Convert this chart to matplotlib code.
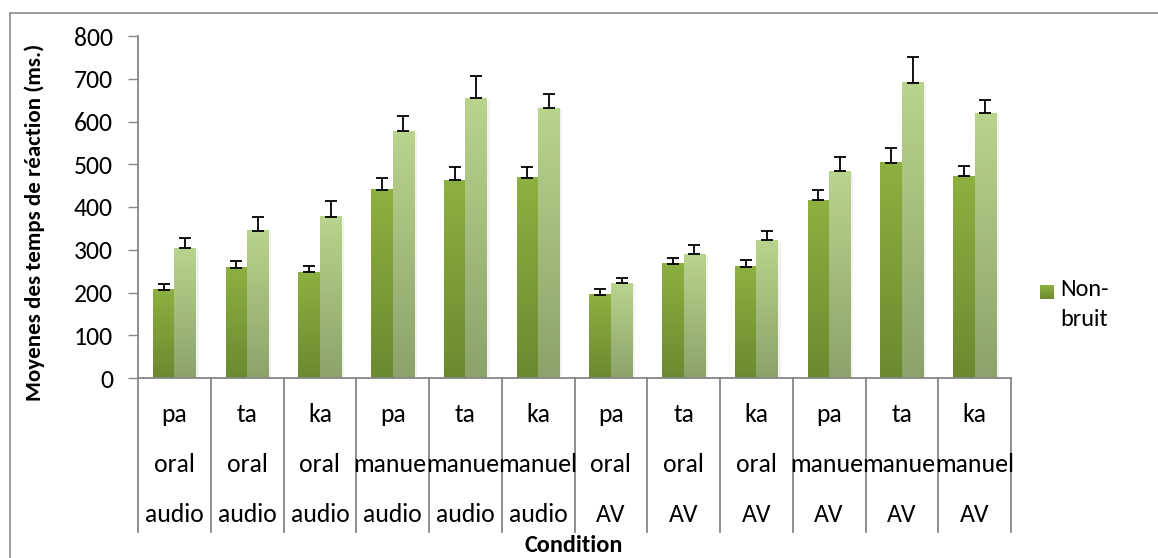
import numpy as np
import matplotlib
matplotlib.use("Agg")
import matplotlib.pyplot as plt
from matplotlib.colors import LinearSegmentedColormap
from matplotlib.patches import Rectangle
from matplotlib.transforms import blended_transform_factory
from matplotlib import font_manager

# Data
syllables = ["pa", "ta", "ka", "pa", "ta", "ka", "pa", "ta", "ka", "pa", "ta", "ka"]
effectors = ["oral", "oral", "oral", "manuel", "manuel", "manuel",
             "oral", "oral", "oral", "manuel", "manuel", "manuel"]
modalities = ["audio"] * 6 + ["AV"] * 6

non_bruit = [206, 258, 247, 440, 463, 468, 195, 267, 260, 416, 503, 472]
non_bruit_err = [14, 15, 16, 29, 30, 25, 13, 14, 17, 24, 35, 25]
bruit = [303, 344, 377, 577, 654, 631, 222, 289, 322, 484, 691, 619]
bruit_err = [25, 33, 38, 35, 52, 34, 13, 21, 21, 33, 61, 32]

# Calibri look-alike if present, else Lato
installed = {f.name for f in font_manager.fontManager.ttflist}
main_font = "Carlito" if "Carlito" in installed else "Lato"
plt.rcParams['font.family'] = [main_font, 'DejaVu Sans']

W, H = 1158, 558
fig = plt.figure(figsize=(W / 100, H / 100), dpi=100)
ax = fig.add_axes([138 / W, 1 - 378 / H, (1011 - 138) / W, 342 / H])

# outer chart frame
fig.patches.append(Rectangle((10 / W, -0.1), 1.2, 1 - 13 / H + 0.1, transform=fig.transFigure,
                             fill=False, edgecolor="#8c8c8c", linewidth=1.2))

dark_cmap = LinearSegmentedColormap.from_list("dark", ["#6b8a2f", "#8db041"])
light_cmap = LinearSegmentedColormap.from_list("light", ["#8ba36a", "#b9d48d"])
grad = np.linspace(0, 1, 256).reshape(-1, 1)

x = np.arange(len(syllables))
bw = 0.297


def gradient_bars(xs, heights, cmap):
    for xc, h in zip(xs, heights):
        # faint shadow to the right
        ax.add_patch(Rectangle((xc - bw / 2 + 0.035, 0), bw, h - 3, facecolor="#000000",
                               alpha=0.05, linewidth=0, zorder=1))
        ax.imshow(grad, extent=[xc - bw / 2, xc + bw / 2, 0, h], origin="lower",
                  aspect="auto", cmap=cmap, zorder=2)


gradient_bars(x - bw / 2, non_bruit, dark_cmap)
gradient_bars(x + bw / 2, bruit, light_cmap)

err_kw = dict(fmt="none", ecolor="black", elinewidth=1.3, capsize=4.3, capthick=1.3, zorder=3)
ax.errorbar(x - bw / 2, non_bruit, yerr=[np.zeros(len(x)), non_bruit_err], **err_kw)
ax.errorbar(x + bw / 2, bruit, yerr=[np.zeros(len(x)), bruit_err], **err_kw)

ax.set_xlim(-0.5, len(x) - 0.5)
ax.set_ylim(0, 800)
ax.set_yticks(np.arange(0, 801, 100))
ax.tick_params(axis="y", direction="out", length=7, width=1, color="#868686",
               labelsize=18.5, pad=11)
ax.set_xticks([])
for s in ["top", "right"]:
    ax.spines[s].set_visible(False)
for s in ["left", "bottom"]:
    ax.spines[s].set_color("#868686")
    ax.spines[s].set_linewidth(1.3)

# category separators and multi-row labels
trans = blended_transform_factory(ax.transData, ax.transAxes)
for k in range(len(x) + 1):
    ax.plot([k - 0.5, k - 0.5], [0, -0.45], transform=trans, color="#868686",
            linewidth=1.3, clip_on=False)

row_y = [-0.108, -0.254, -0.400]
rows = [syllables, effectors, modalities]
for r, (ry, labels) in enumerate(zip(row_y, rows)):
    for i in x:
        t = ax.text(i, ry, labels[i], transform=trans, ha="center", va="center",
                    fontsize=18.5)
        # a wide label is hidden under the next one when that one is wide too
        if i + 1 < len(x) and labels[i] == labels[i + 1] and len(labels[i]) > 5:
            clip = Rectangle((i - 0.6, -0.5), 1.06, 0.5, transform=trans, visible=False)
            ax.add_patch(clip)
            t.set_clip_on(True)
            t.set_clip_path(clip)

fig.text(35 / W, 1 - 222 / H, "Moyenes des temps de réaction (ms.)", rotation=90,
         ha="center", va="center", fontsize=16.5, fontweight="bold")
fig.text(574 / W, 1 - 546 / H, "Condition", ha="center", va="center",
         fontsize=17.5, fontweight="bold")

# legend (only the first series is listed in the reference)
sq = fig.add_axes([1040 / W, 1 - 299 / H, 14 / W, 14 / H])
sq.imshow(grad, extent=[0, 1, 0, 1], origin="lower", aspect="auto", cmap=dark_cmap)
sq.set_axis_off()
fig.text(1060 / W, 1 - 279 / H, "Non-\nbruit", ha="left", va="top", fontsize=17.5,
         linespacing=1.5)

fig.savefig("out.png", dpi=100)
